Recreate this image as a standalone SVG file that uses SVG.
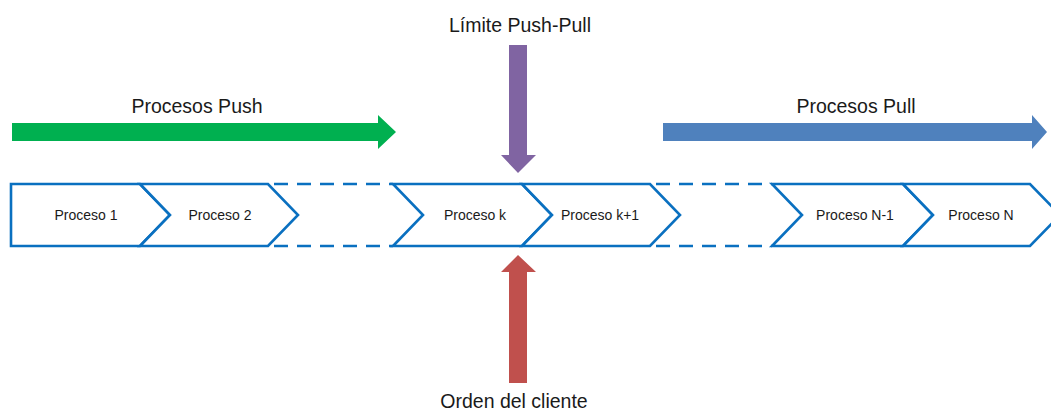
<svg xmlns="http://www.w3.org/2000/svg" width="1051" height="413" viewBox="0 0 1051 413">
  <style>
    .chev { fill: #ffffff; stroke: #0A70C0; stroke-width: 2.6; stroke-linejoin: miter; }
    .dash { fill: none; stroke: #0A70C0; stroke-width: 2.6; stroke-dasharray: 14 9; }
    .lbl { font-family: "Liberation Sans", Arial, sans-serif; font-size: 14px; fill: #1a1a1a; text-anchor: middle; }
    .big { font-family: "Liberation Sans", Arial, sans-serif; font-size: 19.5px; fill: #1a1a1a; text-anchor: middle; }
  </style>
  <rect width="1051" height="413" fill="#ffffff"/>

  <g id="connectors">
    <path class="dash" d="M274,184 H393 M274,246 H393"/>
    <path class="dash" d="M656,184 H772 M656,246 H772"/>
  </g>

  <g id="proceso-1">
    <path class="chev" d="M11,184 H140 L170,215 L140,246 H11 Z"/>
    <text class="lbl" x="86" y="220">Proceso 1</text>
  </g>
  <g id="proceso-2">
    <path class="chev" d="M140,184 H268 L298,215 L268,246 H140 L170,215 Z"/>
    <text class="lbl" x="220" y="220">Proceso 2</text>
  </g>
  <g id="proceso-k">
    <path class="chev" d="M393,184 H522 L552,215 L522,246 H393 L423,215 Z"/>
    <text class="lbl" x="475" y="220">Proceso k</text>
  </g>
  <g id="proceso-k1">
    <path class="chev" d="M522,184 H650 L680,215 L650,246 H522 L552,215 Z"/>
    <text class="lbl" x="600" y="220">Proceso k+1</text>
  </g>
  <g id="proceso-n1">
    <path class="chev" d="M772,184 H903 L933,215 L903,246 H772 L802,215 Z"/>
    <text class="lbl" x="855" y="220">Proceso N-1</text>
  </g>
  <g id="proceso-n">
    <path class="chev" d="M903,184 H1030 L1060,215 L1030,246 H903 L933,215 Z"/>
    <text class="lbl" x="981" y="220">Proceso N</text>
  </g>

  <g id="push-arrow">
    <path d="M12,123 H378 V115 L396,132 L378,149 V141 H12 Z" fill="#00B050"/>
    <text class="big" x="197" y="113">Procesos Push</text>
  </g>
  <g id="pull-arrow">
    <path d="M663,123 H1032 V115 L1047,132 L1032,149 V141 H663 Z" fill="#4F81BD"/>
    <text class="big" x="856" y="113">Procesos Pull</text>
  </g>
  <g id="limite-arrow">
    <path d="M509,45 H527 V155 H536 L518,173 L501,155 H509 Z" fill="#8064A2"/>
    <text class="big" x="520" y="32">Límite Push-Pull</text>
  </g>
  <g id="orden-arrow">
    <path d="M509,383 H527 V272 H536 L518,255 L501,272 H509 Z" fill="#C0504D"/>
    <text class="big" x="514" y="408">Orden del cliente</text>
  </g>
</svg>
